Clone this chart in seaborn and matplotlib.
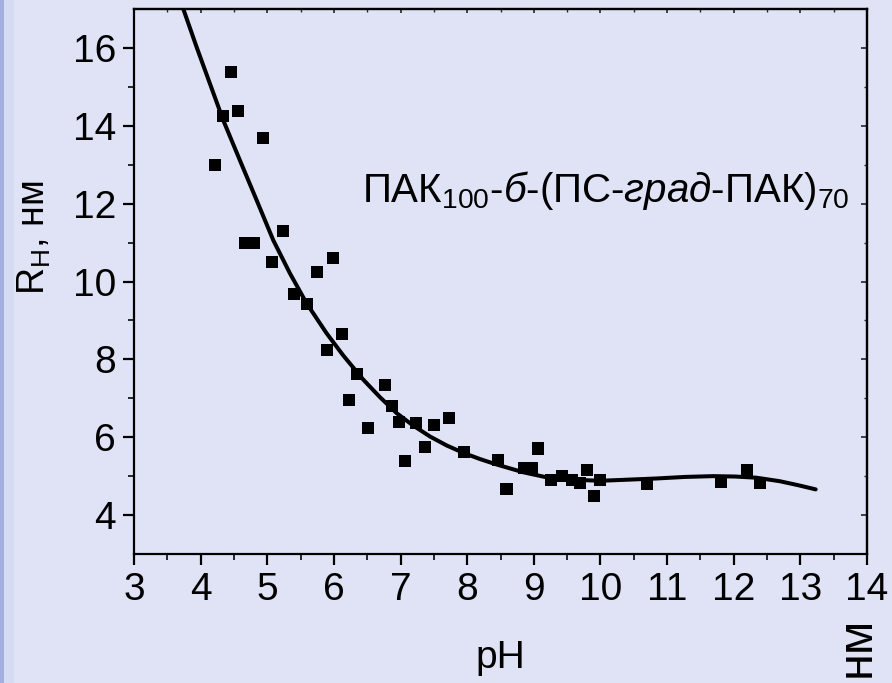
import numpy as np
import pandas as pd
import matplotlib
matplotlib.use("Agg")
import matplotlib.pyplot as plt
from matplotlib.patches import Rectangle
import seaborn as sns

# ---- data ----
ph_points = [4.22, 4.34, 4.45, 4.56, 4.67, 4.80, 4.93, 5.07, 5.23, 5.40,
             5.60, 5.74, 5.90, 5.99, 6.12, 6.22, 6.35, 6.51, 6.76, 6.87,
             6.97, 7.07, 7.23, 7.37, 7.50, 7.73, 7.95, 8.46, 8.59, 8.86,
             8.97, 9.07, 9.26, 9.42, 9.57, 9.70, 9.80, 9.91, 10.00, 10.70,
             11.81, 12.20, 12.40]
rh_points = [12.99, 14.24, 15.39, 14.39, 11.00, 11.00, 13.69, 10.50, 11.30, 9.68,
             9.42, 10.24, 8.25, 10.60, 8.65, 6.95, 7.62, 6.24, 7.33, 6.79,
             6.38, 5.40, 6.37, 5.74, 6.31, 6.50, 5.61, 5.41, 4.66, 5.21,
             5.21, 5.71, 4.90, 5.00, 4.90, 4.83, 5.17, 4.49, 4.91, 4.79,
             4.86, 5.17, 4.83]

ph_curve = [3.74, 3.94, 4.14, 4.34, 4.59, 4.84, 5.09, 5.34, 5.59, 5.89,
            6.14, 6.44, 6.69, 6.94, 7.19, 7.44, 7.69, 7.94, 8.19, 8.44,
            8.84, 9.19, 9.59, 9.99, 10.42, 10.84, 11.27, 11.69, 12.02, 12.34,
            12.69, 12.96, 13.23]
rh_curve = [17.0, 16.02, 15.08, 14.14, 13.11, 12.09, 11.06, 10.21, 9.44, 8.67,
            8.10, 7.48, 7.03, 6.62, 6.30, 6.02, 5.79, 5.60, 5.44, 5.30,
            5.10, 4.97, 4.91, 4.88, 4.91, 4.94, 4.98, 5.00, 4.99, 4.96,
            4.87, 4.77, 4.66]

x_ticks = [3, 4, 5, 6, 7, 8, 9, 10, 11, 12, 13, 14]
y_ticks = [4, 6, 8, 10, 12, 14, 16]

pts = pd.DataFrame({"pH": ph_points, "RH": rh_points})
crv = pd.DataFrame({"pH": ph_curve, "RH": rh_curve})

# ---- style ----
sns.set_theme(style="ticks")
plt.rcParams["font.family"] = ["Liberation Sans", "DejaVu Sans"]
plt.rcParams["mathtext.fontset"] = "custom"
plt.rcParams["mathtext.rm"] = "Liberation Sans"
plt.rcParams["mathtext.it"] = "Liberation Sans:italic"
plt.rcParams["mathtext.bf"] = "Liberation Sans:bold"

bg = "#dfe3f5"
fig = plt.figure(figsize=(8.92, 6.83), dpi=100, facecolor=bg)
ax = fig.add_axes([134 / 892, 129 / 683, 733 / 892, 545 / 683])
ax.set_facecolor("none")

# left blue strip of the slide
fig.patches.append(Rectangle((0, 0), 4 / 892, 1, transform=fig.transFigure,
                             facecolor="#a3afdf", edgecolor="none", zorder=0))
fig.patches.append(Rectangle((4 / 892, 0), 10 / 892, 1, transform=fig.transFigure,
                             facecolor="#d5dbf2", edgecolor="none", zorder=0))

sns.lineplot(data=crv, x="pH", y="RH", ax=ax, color="black", linewidth=2.9,
             sort=False, zorder=3)
sns.scatterplot(data=pts, x="pH", y="RH", ax=ax, marker="s", s=75,
                color="black", edgecolor="none", linewidth=0, zorder=4)

ax.set_xlim(3, 14)
ax.set_ylim(3, 17)
ax.set_xticks(x_ticks)
ax.set_yticks(y_ticks)
ax.set_xticks(np.arange(3.5, 14, 1.0), minor=True)
ax.set_yticks(np.arange(5, 17, 2.0), minor=True)

for sp in ax.spines.values():
    sp.set_visible(True)
    sp.set_color("black")
    sp.set_linewidth(1.6)

ax.tick_params(axis="both", which="major", direction="out", length=8, width=1.6,
               labelsize=28, pad=5, colors="black")
ax.tick_params(axis="both", which="minor", direction="out", length=4.5, width=1.4)

# inward ticks on top / right
secx = ax.secondary_xaxis("top")
secx.set_xticks(x_ticks)
secx.set_xticks(np.arange(3.5, 14, 1.0), minor=True)
secx.tick_params(which="major", direction="in", length=3, width=1.2, labeltop=False)
secx.tick_params(which="minor", direction="in", length=2, width=1.0)
secx.spines["top"].set_linewidth(1.6)
secy = ax.secondary_yaxis("right")
secy.set_yticks(y_ticks)
secy.set_yticks(np.arange(5, 17, 2.0), minor=True)
secy.tick_params(which="major", direction="in", length=4, width=1.2, labelright=False)
secy.tick_params(which="minor", direction="in", length=2.5, width=1.0)
secy.spines["right"].set_linewidth(1.6)

ax.set_xlabel("pH", fontsize=28, color="black")
ax.xaxis.set_label_coords(0.50, -0.158)
ax.set_ylabel(r"R$_{\mathregular{H}}$, нм", fontsize=27, color="black")
ax.yaxis.set_label_coords(-0.111, 0.58)

ax.text(0.311, 0.645,
        r"ПАК$_{\mathregular{100}}$-$\mathit{б}$-(ПС-$\mathit{град}$-ПАК)$_{\mathregular{70}}$",
        transform=ax.transAxes, fontsize=29, color="black", ha="left", va="baseline")

# cropped unit text at the bottom right edge of the slide
fig.text(0.961, 0.097, "нм", rotation=90, fontsize=35, color="black",
         ha="center", va="top")

fig.savefig("out.png", dpi=100, facecolor=bg)
